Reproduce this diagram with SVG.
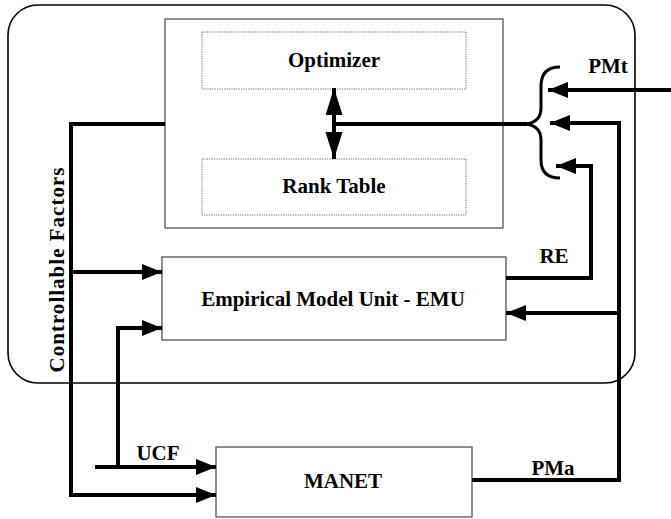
<svg xmlns="http://www.w3.org/2000/svg" width="671" height="519" viewBox="0 0 671 519">
<style>
text{font-family:"Liberation Serif","Times New Roman",serif;font-weight:bold;font-size:21px;fill:#000}
.box{fill:#fff;stroke:#444;stroke-width:1.2}
.dot{fill:none;stroke:#666;stroke-width:1;stroke-dasharray:1.2 1.2}
.c{fill:none;stroke:#000;stroke-width:4;stroke-linejoin:miter}
.a{marker-end:url(#ah)}
.d{marker-end:url(#dh)}
</style>
<defs>
<marker id="ah" markerUnits="userSpaceOnUse" markerWidth="22" markerHeight="18" refX="20" refY="8" orient="auto">
<path d="M0,0 L20,8 L0,16 Z" fill="#000"/>
</marker>
<marker id="dh" markerUnits="userSpaceOnUse" markerWidth="30" markerHeight="18" refX="27" refY="8.5" orient="auto">
<path d="M0,0 L27,8.5 L0,17 Z" fill="#000"/>
</marker>
</defs>
<rect id="frame" x="8" y="5" width="627" height="378" rx="30" ry="30" fill="none" stroke="#000" stroke-width="1.6"/>
<g id="container"><rect class="box" x="165" y="19" width="338" height="209"/></g>
<g id="optimizer"><rect class="dot" x="202" y="32" width="264" height="57"/><text x="334" y="67" text-anchor="middle">Optimizer</text></g>
<g id="ranktable"><rect class="dot" x="202" y="159" width="264" height="56"/><text x="334" y="193" text-anchor="middle">Rank Table</text></g>
<g id="emu"><rect class="box" x="162" y="257" width="344" height="83"/><text x="333" y="306" text-anchor="middle">Empirical Model Unit - EMU</text></g>
<g id="manet"><rect class="box" x="216" y="447" width="256" height="70"/><text x="343" y="488" text-anchor="middle">MANET</text></g>
<g id="connectors">
<path class="c d" d="M334,124 L334,88"/>
<path class="c d" d="M334,124 L334,159"/>
<path class="c" d="M334,124 L527,124"/>
<path d="M560,67 Q541,67 541,86 L541,108 Q541,122 526,124 Q541,126 541,140 L541,160 Q541,178 560,178" fill="none" stroke="#000" stroke-width="3"/>
<path class="c a" d="M671,90 L548,90"/>
<path class="c a" d="M472,480 L619,480 L619,123 L550,123"/>
<path class="c a" d="M506,278 L591,278 L591,166 L556,166"/>
<path class="c a" d="M619,313 L506,313"/>
<path class="c a" d="M165,124 L71,124 L71,495 L216,495"/>
<path class="c a" d="M71,272 L162,272"/>
<path class="c a" d="M95,467 L216,467"/>
<path class="c a" d="M118,467 L118,328 L162,328"/>
</g>
<text x="608" y="73" text-anchor="middle">PMt</text>
<text x="554" y="263" text-anchor="middle">RE</text>
<text x="553" y="475" text-anchor="middle">PMa</text>
<text x="158" y="460" text-anchor="middle">UCF</text>
<text transform="translate(64,270) rotate(-90)" text-anchor="middle" textLength="205" lengthAdjust="spacing">Controllable Factors</text>
</svg>
